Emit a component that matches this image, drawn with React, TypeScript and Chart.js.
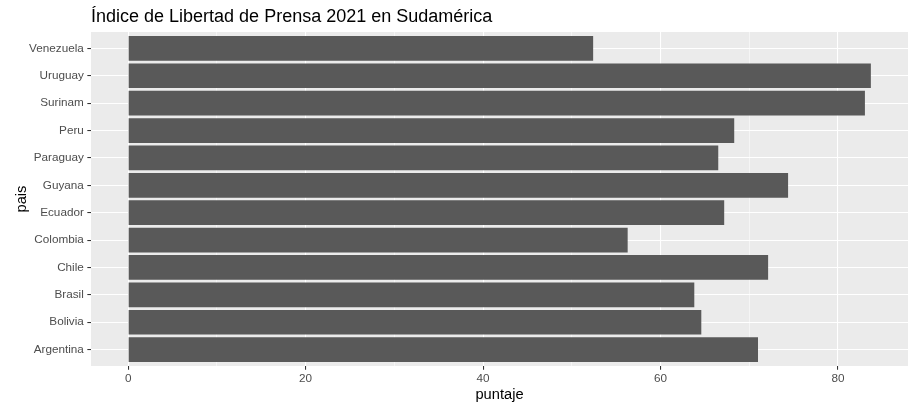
import React, { useEffect, useRef } from "react";
import { Chart, registerables } from "chart.js";

Chart.register(...registerables);

const titulo = "Índice de Libertad de Prensa 2021 en Sudamérica";
const tituloX = "puntaje";
const tituloY = "pais";
const paises = [
  "Venezuela",
  "Uruguay",
  "Surinam",
  "Peru",
  "Paraguay",
  "Guyana",
  "Ecuador",
  "Colombia",
  "Chile",
  "Brasil",
  "Bolivia",
  "Argentina",
];
const puntajes = [52.41, 83.71, 83.04, 68.31, 66.51, 74.38, 67.18, 56.3, 72.13, 63.81, 64.6, 70.99];
const ticksMayores = [0, 20, 40, 60, 80];
const ticksMenores = [10, 30, 50, 70];

const FONT = "'Liberation Sans', Arial, Helvetica, sans-serif";
const W = 916;
const H = 411;

export default function App() {
  const ref = useRef<HTMLCanvasElement | null>(null);

  useEffect(() => {
    const canvas = ref.current;
    if (!canvas) return;
    const maxV = Math.max(...puntajes);
    const exp = maxV * 0.05;
    const todosX = [...ticksMayores, ...ticksMenores].sort((a, b) => a - b);
    const esMayor = (v: any) => ticksMayores.includes(v);

    const panelPlugin = {
      id: "panelPlugin",
      beforeDraw(chart: any) {
        const { ctx, chartArea: a } = chart;
        ctx.save();
        ctx.fillStyle = "#EBEBEB";
        ctx.fillRect(a.left, a.top, a.right - a.left, a.bottom - a.top);
        ctx.restore();
      },
      afterDraw(chart: any) {
        const { ctx, chartArea: a } = chart;
        ctx.save();
        ctx.fillStyle = "#000000";
        ctx.textBaseline = "alphabetic";
        ctx.font = `18px ${FONT}`;
        ctx.textAlign = "left";
        ctx.fillText(titulo, a.left, 22);
        ctx.font = `14.67px ${FONT}`;
        ctx.textAlign = "center";
        ctx.fillText(tituloX, (a.left + a.right) / 2, 398.5);
        ctx.translate(26, (a.top + a.bottom) / 2);
        ctx.rotate(-Math.PI / 2);
        ctx.fillText(tituloY, 0, 0);
        ctx.restore();
      },
    };

    const chart = new Chart(canvas, {
      type: "bar",
      data: {
        datasets: [
          {
            data: puntajes.map((v, i) => ({ x: v, y: i })),
            backgroundColor: "#595959",
            borderWidth: 0,
            barPercentage: 0.9,
            categoryPercentage: 1.0,
          },
        ],
      },
      options: {
        indexAxis: "y",
        responsive: false,
        animation: false,
        events: [],
        layout: { padding: { top: 32, right: 8, bottom: 0, left: 0 } },
        plugins: {
          legend: { display: false },
          tooltip: { enabled: false },
          title: { display: false },
        },
        scales: {
          x: {
            type: "linear",
            position: "bottom",
            offset: false,
            min: -exp,
            max: maxV + exp,
            afterBuildTicks: (s: any) => {
              s.ticks = todosX.map((v) => ({ value: v }));
            },
            afterFit: (s: any) => {
              s.height = 45;
            },
            border: { display: false },
            grid: {
              offset: false,
              color: "#FFFFFF",
              lineWidth: (c: any) => (esMayor(c.tick && c.tick.value) ? 1.07 : 0.53),
              tickColor: (c: any) => (esMayor(c.tick && c.tick.value) ? "#333333" : "rgba(0,0,0,0)"),
              tickWidth: 1.07,
              tickLength: 3.67,
              drawTicks: true,
            },
            ticks: {
              autoSkip: false,
              maxRotation: 0,
              padding: 2.5,
              color: "#4D4D4D",
              font: { family: FONT, size: 11.73 },
              callback: (v: any) => (esMayor(v) ? String(v) : ""),
            },
          },
          y: {
            type: "linear",
            position: "left",
            reverse: true,
            offset: false,
            min: -0.6,
            max: paises.length - 1 + 0.6,
            afterBuildTicks: (s: any) => {
              s.ticks = paises.map((_, i) => ({ value: i }));
            },
            afterFit: (s: any) => {
              s.width = 91;
              s.paddingTop = 0;
              s.paddingBottom = 0;
            },
            border: { display: false },
            grid: {
              offset: false,
              color: "#FFFFFF",
              lineWidth: 1.07,
              tickColor: "#333333",
              tickWidth: 1.07,
              tickLength: 3.67,
              drawTicks: true,
            },
            ticks: {
              autoSkip: false,
              padding: 3.5,
              color: "#4D4D4D",
              font: { family: FONT, size: 11.73 },
              callback: (v: any) => paises[v] ?? "",
            },
          },
        },
      } as any,
      plugins: [panelPlugin],
    });

    return () => {
      chart.destroy();
    };
  }, []);

  return (
    <div style={{ position: "fixed", left: 0, top: 0, width: W, height: H, background: "#FFFFFF" }}>
      <canvas ref={ref} width={W} height={H} style={{ display: "block", width: W, height: H }} />
    </div>
  );
}
